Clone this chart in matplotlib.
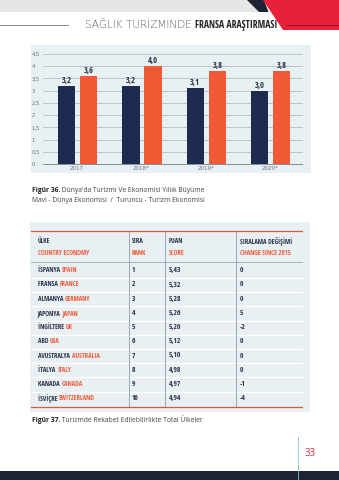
import matplotlib
matplotlib.use('Agg')
import matplotlib.pyplot as plt
import numpy as np
import warnings
from matplotlib import font_manager as fm
from matplotlib.patches import Polygon, Rectangle

# ---------------- data ----------------
years = ['2017', '2018*', '2019*', '2020*']
world_growth = [3.2, 3.2, 3.1, 3.0]
tourism_growth = [3.6, 4.0, 3.8, 3.8]
ytick_vals = [0, 0.5, 1, 1.5, 2, 2.5, 3, 3.5, 4, 4.5]
ytick_labels = ['0', '0,5', '1', '1,5', '2', '2,5', '3', '3,5', '4', '4,5']

headers_tr = ['ÜLKE', 'SIRA', 'PUAN', 'SIRALAMA DEĞİŞİMİ']
headers_en = ['COUNTRY ECONOMY', 'RANK', 'SCORE', 'CHANGE SINCE 2015']
countries_tr = ['İSPANYA', 'FRANSA', 'ALMANYA', 'JAPONYA', 'İNGİLTERE', 'ABD',
                'AVUSTRALYA', 'İTALYA', 'KANADA', 'İSVİÇRE']
countries_en = ['SPAIN', 'FRANCE', 'GERMANY', 'JAPAN', 'UK', 'USA',
                'AUSTRALIA', 'ITALY', 'CANADA', 'SWITZERLAND']
ranks = ['1', '2', '3', '4', '5', '6', '7', '8', '9', '10']
scores = ['5,43', '5,32', '5,28', '5,26', '5,20', '5,12', '5,10', '4,98', '4,97', '4,94']
changes = ['0', '0', '0', '5', '-2', '0', '0', '0', '-1', '-4']

page_title_light = 'SAĞLIK TURİZMİNDE'
page_title_bold = 'FRANSA ARAŞTIRMASI'
cap36_bold = 'Figür 36.'
cap36_rest = " Dünya'da Turizmi Ve Ekonomisi Yıllık Büyüme"
cap36_line2 = 'Mavi - Dünya Ekonomisi  /  Turuncu - Turizm Ekonomisi'
cap37_bold = 'Figür 37.'
cap37_rest = ' Turizmde Rekabet Edilebilirlikte Total Ülkeler'
page_number = '33'

NAVY = '#1d2b50'
ORANGE = '#f05a35'
BG = '#e9f0f4'
TXT_DARK = '#2a3048'

W, H = 339, 480
fig = plt.figure(figsize=(W / 100, H / 100), dpi=100)
fig.patch.set_facecolor('white')

page = fig.add_axes([0, 0, 1, 1])
page.set_xlim(0, W)
page.set_ylim(H, 0)
page.axis('off')

renderer = fig.canvas.get_renderer()

# ---------------- fonts: pick the narrowest installed bold sans ----------------
names = {f.name for f in fm.fontManager.ttflist}
candidates = []
if 'Liberation Sans Narrow' in names:
    candidates.append(dict(family='Liberation Sans Narrow'))
if any(f.name == 'DejaVu Sans' and str(f.stretch) == 'condensed' for f in fm.fontManager.ttflist):
    candidates.append(dict(family='DejaVu Sans', fontstretch='condensed'))
for nm in ['Roboto Condensed', 'Open Sans Condensed', 'Roboto', 'Lato', 'Liberation Sans', 'Inter', 'Noto Sans']:
    if nm in names:
        candidates.append(dict(family=nm))
best, best_w = dict(family='DejaVu Sans'), 1e9
with warnings.catch_warnings():
    warnings.simplefilter('ignore')
    for c in candidates:
        tt = page.text(0, 0, 'AVUSTRALYA AUSTRALIA', fontsize=10, fontweight='bold', **c)
        wdt = tt.get_window_extent(renderer=renderer).width
        tt.remove()
        if wdt < best_w:
            best, best_w = c, wdt
NARROW = best
CAPF = dict(family='Open Sans') if 'Open Sans' in names else dict(family='DejaVu Sans')


def fit_size(text, target_w, base, fam, weight='bold'):
    tt = page.text(0, 0, text, fontsize=base, fontweight=weight, **fam)
    wdt = tt.get_window_extent(renderer=renderer).width
    tt.remove()
    return base * target_w / wdt


def two_part(x, y, a, b, ca, cb, wa, wb, size, fam_a, fam_b, gap=0.0):
    t1 = page.text(x, y, a, color=ca, fontweight=wa, fontsize=size, va='center', ha='left', **fam_a)
    bb = t1.get_window_extent(renderer=renderer)
    page.text(x + bb.width + gap, y, b, color=cb, fontweight=wb, fontsize=size,
              va='center', ha='left', **fam_b)


# ---------------- header band ----------------
page.add_patch(Rectangle((0, 0), 260, 12, color='#e6e6e4', lw=0))
page.add_patch(Polygon([(247, 0), (264, 0), (268.5, 12), (259, 12)], closed=True, color='#1e2334', lw=0))
page.add_patch(Polygon([(263, 0), (W, 0), (W, 30), (283, 30)], closed=True, color='#e7213a', lw=0))
page.plot([0, 68], [25, 25], color='#8c8c8c', lw=0.7)
page.plot([286, W], [25, 25], color='#9b1626', lw=0.7)
page.text(192, 25, page_title_light, ha='right', va='center', fontsize=7.6,
          color='#5a5a5a', family='DejaVu Sans', fontweight='light')
title_size = min(7.5, fit_size(page_title_bold, 82, 7.0, NARROW))
page.text(195, 25.3, page_title_bold, ha='left', va='center', fontsize=title_size,
          color='#222222', fontweight='bold', **NARROW)

# ---------------- bar chart ----------------
page.add_patch(Rectangle((31, 45), 280, 128, color=BG, lw=0))
px_per_unit = 110 / 4.5
y_top = 164 - 4.6 * px_per_unit
y_bot = 164 + 0.05 * px_per_unit
ax = fig.add_axes([43 / W, 1 - y_bot / H, 260 / W, (y_bot - y_top) / H])
ax.set_facecolor('none')
ax.set_ylim(-0.05, 4.6)
ax.set_xlim(-0.53, 3.51)
x = np.arange(len(years))
ax.bar(x - 0.165, world_growth, width=0.27, color=NAVY, zorder=3)
ax.bar(x + 0.18, tourism_growth, width=0.27, color=ORANGE, zorder=3)
for xi, v in zip(x - 0.165, world_growth):
    ax.text(xi, v + 0.04, f'{v:.1f}'.replace('.', ','), ha='center', va='bottom',
            fontsize=6.0, fontweight='bold', color=TXT_DARK, **NARROW)
for xi, v in zip(x + 0.18, tourism_growth):
    ax.text(xi, v + 0.04, f'{v:.1f}'.replace('.', ','), ha='center', va='bottom',
            fontsize=6.0, fontweight='bold', color=TXT_DARK, **NARROW)
ax.set_yticks(ytick_vals)
ax.set_yticklabels(ytick_labels, fontsize=3.8, color='#6b7078', ha='left')
ax.tick_params(axis='y', length=0, pad=8.0)
ax.set_xticks(x)
ax.set_xticklabels(years, fontsize=4.0, color='#6b7078')
ax.tick_params(axis='x', length=0, pad=0.8)
ax.grid(axis='y', color='#aab4bc', lw=0.5, zorder=0)
ax.axhline(0, color='#7d8790', lw=0.6, zorder=2)
for s in ax.spines.values():
    s.set_visible(False)

# captions 36
CS = 4.85
two_part(32, 191, cap36_bold, cap36_rest, '#222222', '#444444', 'bold', 'normal', CS, CAPF, CAPF)
page.text(32, 201, cap36_line2, fontsize=CS, color='#444444', va='center', ha='left', **CAPF)

# ---------------- table ----------------
page.add_patch(Rectangle((30, 222), 280, 190, color=BG, lw=0))
row_y0, row_dy = 270.8, 14.2
col_x = [38, 132, 169, 240]
vlines = [129, 165, 236]
t_top, t_bot = 231, 407
for i in range(len(countries_tr) - 1):
    yy = row_y0 + row_dy * (i + 0.5)
    page.plot([31, 302], [yy, yy], color='white', lw=0.9)
page.plot([31, 302], [262, 262], color='#8e97a3', lw=0.5)
for vx in vlines:
    page.plot([vx, vx], [t_top, t_bot], color='#7f8a99', lw=0.5)
page.plot([31, 302], [t_top, t_top], color='#e2553a', lw=0.9)
page.plot([31, 302], [t_bot, t_bot], color='#e2553a', lw=0.9)

TS = 4.8
for cx, htr, hen in zip(col_x, headers_tr, headers_en):
    page.text(cx, 241.5, htr, fontsize=TS, fontweight='bold', color=TXT_DARK, va='center', ha='left', **NARROW)
    page.text(cx, 253.5, hen, fontsize=TS, fontweight='bold', color=ORANGE, va='center', ha='left', **NARROW)

for i in range(len(countries_tr)):
    yy = row_y0 + row_dy * i
    two_part(col_x[0], yy, countries_tr[i] + ' ', countries_en[i], TXT_DARK, ORANGE,
             'bold', 'bold', TS, NARROW, NARROW)
    page.text(col_x[1], yy, ranks[i], fontsize=TS + 0.6, fontweight='bold', color=TXT_DARK,
              va='center', ha='left', **NARROW)
    page.text(col_x[2], yy, scores[i], fontsize=TS + 0.6, fontweight='bold', color=TXT_DARK,
              va='center', ha='left', **NARROW)
    page.text(col_x[3], yy, changes[i], fontsize=TS + 0.6, fontweight='bold', color=TXT_DARK,
              va='center', ha='left', **NARROW)

two_part(32, 421, cap37_bold, cap37_rest, '#222222', '#444444', 'bold', 'normal', CS, CAPF, CAPF)

# ---------------- footer ----------------
page.add_patch(Rectangle((0, 471), W, 9, color='#1e2334', lw=0))
page.plot([298, 298], [437, 480], color='#8fbbd2', lw=0.6)
page.text(310, 453, page_number, fontsize=7, color='#d6323b', ha='center', va='center', **CAPF)

fig.savefig('out.png', dpi=100, facecolor='white')
